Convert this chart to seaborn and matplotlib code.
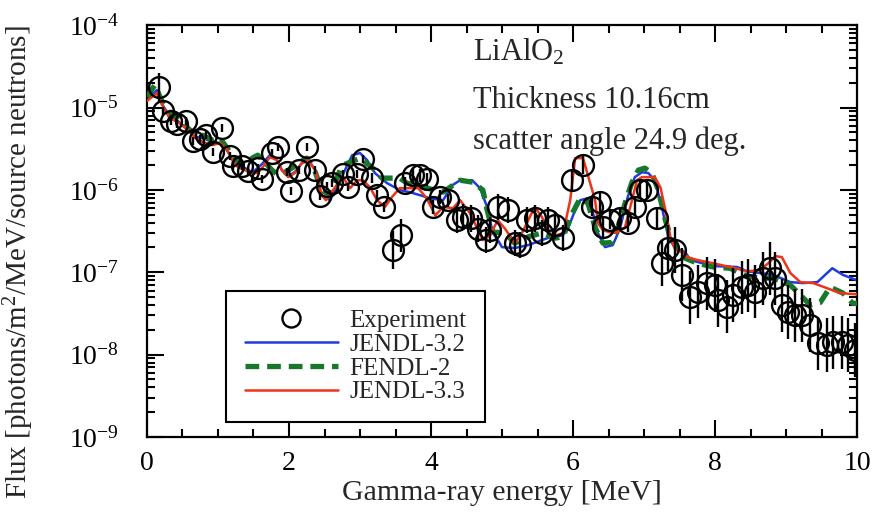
import numpy as np
import seaborn as sns
import matplotlib.pyplot as plt
from matplotlib.lines import Line2D
from matplotlib.ticker import MultipleLocator, LogLocator, FixedLocator, FuncFormatter, NullFormatter

# Experiment (energy in MeV, flux, relative error)
exp_e = [0.17, 0.23, 0.34, 0.42, 0.55, 0.65, 0.75, 0.83, 0.93, 1.06,
         1.17, 1.21, 1.34, 1.42, 1.56, 1.62, 1.76, 1.85, 1.97, 2.03,
         2.14, 2.25, 2.37, 2.44, 2.54, 2.61, 2.76, 2.83, 2.96, 3.04,
         3.17, 3.24, 3.34, 3.46, 3.58, 3.63, 3.75, 3.85, 3.94, 4.03,
         4.13, 4.24, 4.37, 4.45, 4.56, 4.66, 4.77, 4.83, 4.94, 5.08,
         5.18, 5.25, 5.35, 5.46, 5.56, 5.65, 5.75, 5.86, 5.99, 6.14,
         6.27, 6.38, 6.42, 6.52, 6.66, 6.77, 6.87, 6.94, 7.04, 7.18,
         7.25, 7.34, 7.44, 7.54, 7.65, 7.76, 7.89, 8.00, 8.04, 8.17,
         8.25, 8.38, 8.46, 8.56, 8.68, 8.77, 8.85, 8.94, 9.03, 9.13,
         9.23, 9.34, 9.45, 9.58, 9.66, 9.79, 9.87, 9.97]
exp_flux = [1.77e-5, 9.0e-6, 6.8e-6, 6.3e-6, 6.8e-6, 3.9e-6, 4.1e-6, 4.6e-6, 2.9e-6, 5.6e-6,
            2.6e-6, 1.95e-6, 1.95e-6, 1.69e-6, 1.84e-6, 1.35e-6, 2.8e-6, 3.3e-6, 1.64e-6, 9.7e-7,
            1.74e-6, 3.3e-6, 1.74e-6, 8.4e-7, 1.11e-6, 1.21e-6, 1.56e-6, 1.08e-6, 1.56e-6, 2.37e-6,
            1.39e-6, 8.6e-7, 6.2e-7, 1.86e-7, 2.8e-7, 1.21e-6, 1.51e-6, 1.51e-6, 1.35e-6, 6.2e-7,
            8.2e-7, 7.5e-7, 4.3e-7, 4.7e-7, 4.5e-7, 3.4e-7, 2.46e-7, 3.25e-7, 6.2e-7, 5.7e-7,
            2.26e-7, 2.14e-7, 4.3e-7, 4.5e-7, 3.0e-7, 4.3e-7, 3.7e-7, 2.6e-7, 1.31e-6, 2.0e-6,
            6.2e-7, 7.1e-7, 3.5e-7, 4.3e-7, 4.5e-7, 4.0e-7, 6.2e-7, 9.95e-7, 9.95e-7, 4.5e-7,
            1.29e-7, 1.97e-7, 1.86e-7, 9.3e-8, 5.0e-8, 5.8e-8, 7.4e-8, 7.0e-8, 4.6e-8, 3.8e-8,
            5.3e-8, 6.6e-8, 7.0e-8, 5.8e-8, 8.5e-8, 1.12e-7, 8.5e-8, 4.0e-8, 3.3e-8, 3.0e-8,
            3.0e-8, 2.29e-8, 1.38e-8, 1.31e-8, 1.42e-8, 1.42e-8, 1.31e-8, 1.14e-8]
exp_err = [0.5, 0.12, 0.12, 0.12, 0.12, 0.12, 0.12, 0.12, 0.12, 0.12,
           0.12, 0.12, 0.12, 0.12, 0.12, 0.12, 0.12, 0.12, 0.12, 0.12,
           0.12, 0.12, 0.12, 0.12, 0.12, 0.12, 0.12, 0.12, 0.12, 0.12,
           0.15, 0.15, 0.15, 0.7, 0.6, 0.2, 0.2, 0.2, 0.2, 0.2,
           0.2, 0.2, 0.45, 0.45, 0.45, 0.45, 0.45, 0.45, 0.45, 0.45,
           0.45, 0.45, 0.45, 0.45, 0.45, 0.45, 0.45, 0.45, 0.3, 0.3,
           0.3, 0.3, 0.3, 0.3, 0.3, 0.3, 0.3, 0.3, 0.3, 0.3,
           0.9, 0.9, 0.9, 1.1, 1.1, 1.1, 1.1, 1.1, 1.1, 1.1,
           1.1, 1.1, 1.1, 1.1, 1.1, 1.1, 1.1, 1.1, 1.1, 1.1,
           1.1, 1.1, 1.1, 1.1, 1.1, 1.1, 1.1, 1.1]

# JENDL-3.2
j32_e = [0.0, 0.14, 0.23, 0.32, 0.44, 0.57, 0.68, 0.79, 0.92, 1.03, 1.13, 1.20, 1.28, 1.38,
         1.48, 1.56, 1.63, 1.73, 1.83, 1.90, 1.99, 2.08, 2.18, 2.27, 2.37, 2.46, 2.58, 2.72,
         2.89, 3.00, 3.10, 3.21, 3.38, 3.56, 3.70, 3.85, 3.99, 4.17, 4.30, 4.41, 4.58, 4.69,
         4.79, 4.87, 4.94, 5.00, 5.18, 5.37, 5.56, 5.70, 5.85, 5.92, 6.03, 6.10, 6.20, 6.27,
         6.35, 6.45, 6.56, 6.66, 6.77, 6.87, 6.97, 7.06, 7.15, 7.25, 7.34, 7.44, 7.58, 7.65,
         7.97, 8.31, 8.45, 8.63, 8.82, 9.06, 9.24, 9.44, 9.65, 9.80, 10.0]
j32_flux = [1.23e-5, 1.63e-5, 1.04e-5, 7.9e-6, 6.8e-6, 5.5e-6, 4.4e-6, 4.25e-6, 3.8e-6, 3.7e-6,
            3.04e-6, 2.3e-6, 2.0e-6, 1.84e-6, 1.64e-6, 1.84e-6, 2.11e-6, 2.64e-6, 2.3e-6, 1.74e-6,
            1.47e-6, 1.64e-6, 2.11e-6, 2.3e-6, 1.74e-6, 8.6e-7, 7.5e-7, 1.31e-6, 2.64e-6, 2.8e-6,
            2.3e-6, 1.6e-6, 1.21e-6, 9.95e-7, 9.4e-7, 8.6e-7, 7.9e-7, 7.5e-7, 1.14e-6, 1.31e-6,
            1.31e-6, 1.05e-6, 6.2e-7, 3.0e-7, 2.46e-7, 2.02e-7, 1.97e-7, 2.14e-7, 2.46e-7, 2.7e-7,
            2.8e-7, 3.25e-7, 5.7e-7, 7.5e-7, 7.9e-7, 5.7e-7, 3.0e-7, 2.02e-7, 2.14e-7, 3.4e-7,
            8.2e-7, 1.43e-6, 1.64e-6, 1.6e-6, 1.31e-6, 6.2e-7, 2.7e-7, 1.97e-7, 1.76e-7, 1.41e-7,
            1.19e-7, 1.16e-7, 1.03e-7, 9.8e-8, 9.3e-8, 7.6e-8, 7.4e-8, 7.6e-8, 1.12e-7, 9.3e-8,
            8.0e-8]

# FENDL-2
f2_e = [0.0, 0.11, 0.23, 0.32, 0.44, 0.58, 0.68, 0.79, 0.92, 1.03, 1.13, 1.20, 1.32, 1.41,
        1.48, 1.56, 1.66, 1.76, 1.85, 1.94, 2.04, 2.15, 2.25, 2.37, 2.46, 2.58, 2.72, 2.76,
        3.00, 3.18, 3.31, 3.56, 3.66, 4.17, 4.41, 4.59, 4.73, 4.79, 4.87, 5.04, 5.18, 5.37,
        5.56, 5.75, 5.86, 5.99, 6.10, 6.21, 6.31, 6.42, 6.55, 6.63, 6.76, 6.83, 6.92, 7.01,
        7.11, 7.20, 7.30, 7.39, 7.54, 7.75, 7.97, 8.21, 8.45, 8.63, 8.82, 9.06, 9.24, 9.34,
        9.48, 9.62, 9.80, 9.94, 10.0]
f2_flux = [1.34e-5, 1.87e-5, 1.10e-5, 8.55e-6, 7.4e-6, 5.6e-6, 4.6e-6, 4.6e-6, 4.0e-6, 4.25e-6,
           3.2e-6, 2.64e-6, 2.11e-6, 2.0e-6, 2.43e-6, 2.64e-6, 2.17e-6, 1.74e-6, 1.51e-6, 1.64e-6,
           1.84e-6, 2.17e-6, 2.43e-6, 1.64e-6, 9.95e-7, 8.6e-7, 1.74e-6, 2.0e-6, 2.43e-6, 1.84e-6,
           1.39e-6, 1.39e-6, 1.21e-6, 9.4e-7, 1.31e-6, 1.24e-6, 9.95e-7, 5.7e-7, 3.08e-7, 3.0e-7,
           2.26e-7, 2.7e-7, 3.0e-7, 2.6e-7, 2.7e-7, 5.2e-7, 7.9e-7, 6.9e-7, 3.5e-7, 2.26e-7,
           2.3e-7, 3.5e-7, 8.2e-7, 1.24e-6, 1.74e-6, 1.84e-6, 1.6e-6, 9.95e-7, 4.3e-7, 2.46e-7,
           1.53e-7, 1.29e-7, 1.16e-7, 1.12e-7, 9.0e-8, 8.5e-8, 8.5e-8, 7.0e-8, 4.9e-8, 4.0e-8,
           4.3e-8, 6.6e-8, 5.6e-8, 4.2e-8, 4.2e-8]

# JENDL-3.3
j33_e = [0.0, 0.14, 0.23, 0.32, 0.44, 0.58, 0.68, 0.79, 0.92, 1.03, 1.13, 1.20, 1.28, 1.38,
         1.48, 1.56, 1.63, 1.73, 1.83, 1.90, 1.99, 2.08, 2.18, 2.27, 2.37, 2.46, 2.52, 2.62,
         2.69, 2.76, 2.86, 2.96, 3.04, 3.14, 3.24, 3.35, 3.45, 3.56, 3.70, 3.82, 3.94, 4.06,
         4.17, 4.31, 4.41, 4.55, 4.73, 4.83, 4.94, 5.04, 5.18, 5.28, 5.46, 5.56, 5.70, 5.86,
         5.96, 6.03, 6.14, 6.31, 6.35, 6.42, 6.55, 6.63, 6.73, 6.83, 6.90, 6.97, 7.15, 7.23,
         7.30, 7.37, 7.44, 7.54, 7.61, 7.75, 7.97, 8.21, 8.45, 8.63, 8.75, 8.85, 8.94, 9.06,
         9.20, 9.38, 9.58, 9.76, 10.0]
j33_flux = [1.2e-5, 1.5e-5, 1.01e-5, 7.4e-6, 6.65e-6, 5.3e-6, 4.25e-6, 3.8e-6, 3.5e-6, 3.7e-6,
            3.04e-6, 2.3e-6, 1.89e-6, 1.74e-6, 1.6e-6, 1.6e-6, 1.89e-6, 2.5e-6, 2.3e-6, 1.74e-6,
            1.43e-6, 1.6e-6, 2.11e-6, 2.3e-6, 1.74e-6, 8.6e-7, 7.5e-7, 9.95e-7, 1.21e-6, 1.43e-6,
            1.05e-6, 1.31e-6, 1.31e-6, 1.08e-6, 7.5e-7, 6.2e-7, 8.2e-7, 1.05e-6, 1.05e-6, 1.05e-6,
            7.9e-7, 4.9e-7, 6.2e-7, 6.0e-7, 7.5e-7, 5.2e-7, 2.46e-7, 2.8e-7, 4.3e-7, 3.4e-7,
            2.26e-7, 3.0e-7, 6.2e-7, 4.7e-7, 2.7e-7, 3.0e-7, 7.5e-7, 2.43e-6, 2.43e-6, 7.5e-7,
            3.95e-7, 3.25e-7, 3.0e-7, 3.08e-7, 3.5e-7, 7.5e-7, 1.31e-6, 1.43e-6, 1.43e-6, 1.08e-6,
            5.7e-7, 2.7e-7, 1.86e-7, 1.76e-7, 1.53e-7, 1.41e-7, 1.29e-7, 1.16e-7, 1.03e-7, 1.06e-7,
            1.29e-7, 1.57e-7, 1.53e-7, 9.8e-8, 7.6e-8, 7.4e-8, 6.4e-8, 5.6e-8, 5.4e-8]

y_major = [1e-9, 1e-8, 1e-7, 1e-6, 1e-5, 1e-4]

sns.set_theme(style="ticks")
plt.rcParams["font.family"] = ["Liberation Serif", "DejaVu Serif"]
plt.rcParams["mathtext.fontset"] = "custom"
plt.rcParams["mathtext.rm"] = "Liberation Serif"
plt.rcParams["mathtext.it"] = "Liberation Serif:italic"

fig = plt.figure(figsize=(8.8, 5.13), dpi=100)
ax = fig.add_axes([0.167, 0.148, 0.807, 0.803])
ax.set_yscale("log")

blue, green, red = "#1e3ce0", "#17772b", "#ee3418"

sns.lineplot(x=j32_e, y=j32_flux, ax=ax, color=blue, lw=1.8, sort=False, estimator=None, zorder=2)
sns.lineplot(x=f2_e, y=f2_flux, ax=ax, color=green, lw=3.8, sort=False, estimator=None, zorder=3)
ax.lines[-1].set_dashes([2.6, 1.5])
sns.lineplot(x=j33_e, y=j33_flux, ax=ax, color=red, lw=1.8, sort=False, estimator=None, zorder=4)

flux = np.array(exp_flux)
err = np.array(exp_err)
ax.errorbar(exp_e, flux, yerr=[flux - flux / (1 + err), flux * err], fmt="o",
            ms=15, mfc="none", mec="black", mew=1.7, ecolor="black", elinewidth=1.7,
            capsize=0, zorder=5)

ax.set_xlim(0, 10)
ax.set_ylim(1e-9, 1e-4)
ax.xaxis.set_major_locator(MultipleLocator(2))
ax.xaxis.set_minor_locator(MultipleLocator(0.5))
ax.yaxis.set_major_locator(FixedLocator(y_major))
ax.yaxis.set_minor_locator(LogLocator(base=10, subs=np.arange(2, 10), numticks=10))
ax.yaxis.set_minor_formatter(NullFormatter())
ax.yaxis.set_major_formatter(FuncFormatter(lambda v, p: r"$10^{%d}$" % round(np.log10(v))))
ax.tick_params(which="both", direction="in", top=True, right=True, width=1.5,
               labelsize=20, colors="black")
ax.tick_params(which="major", length=12)
ax.tick_params(which="minor", length=6)
ax.tick_params(axis="x", which="major", pad=10)
ax.tick_params(axis="y", which="major", pad=20)
for s in ax.spines.values():
    s.set_linewidth(1.6)
    s.set_color("black")

ax.set_xlabel("Gamma-ray energy [MeV]", fontsize=21.5, labelpad=3)
ax.set_ylabel("Flux [photons/m$^2$/MeV/source neutrons]", fontsize=21)
ax.yaxis.set_label_coords(-0.156, 0.425)

ax.text(0.459, 0.934, "LiAlO$_2$", transform=ax.transAxes, fontsize=22, va="center")
ax.text(0.459, 0.816, "Thickness 10.16cm", transform=ax.transAxes, fontsize=22, va="center")
ax.text(0.459, 0.718, "scatter angle 24.9 deg.", transform=ax.transAxes, fontsize=22, va="center")

handles = [
    Line2D([], [], ls="none", marker="o", ms=13, mfc="none", mec="black", mew=1.7),
    Line2D([], [], color=blue, lw=1.8),
    Line2D([], [], color=green, lw=3.8, dashes=[2.6, 1.5]),
    Line2D([], [], color=red, lw=1.8),
]
leg = ax.legend(handles, ["Experiment", "JENDL-3.2", "FENDL-2", "JENDL-3.3"],
                loc="lower left", bbox_to_anchor=(0.111, 0.036), borderaxespad=0,
                fontsize=18, frameon=True, fancybox=False, framealpha=1,
                edgecolor="black", handlelength=3.75, handletextpad=0.45,
                labelspacing=0.05, borderpad=0.75)
leg.get_frame().set_linewidth(1.5)

fig.savefig("out.png", dpi=100)
